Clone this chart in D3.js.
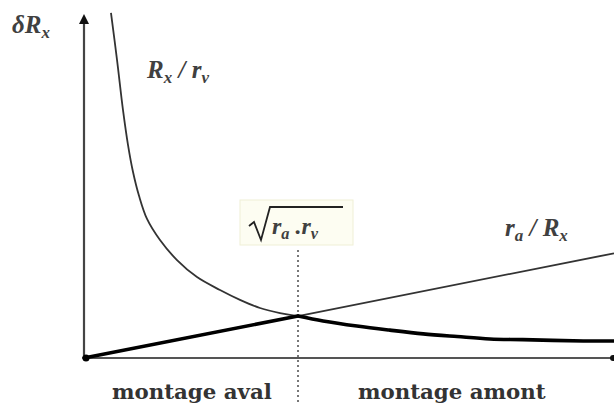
<!DOCTYPE html>
<html>
<head>
<meta charset="utf-8">
<script src="https://cdn.jsdelivr.net/npm/d3@7/dist/d3.min.js"></script>
<style>
  html, body { margin: 0; padding: 0; background: #fff; }
  svg { display: block; }
</style>
</head>
<body>
<svg id="chart" width="614" height="403"></svg>
<script>
// Error contributions versus the measured resistance Rx (arbitrary units)
const curveX = [0.509, 0.623, 0.736, 0.830, 0.925, 1.038, 1.189, 1.434, 1.755, 2.132, 2.566, 2.943, 3.321, 3.698, 4.038,
                4.51, 5.15, 5.77, 6.40, 7.04, 7.66, 8.28, 9.42, 10];
const curveY = [10.15, 8.77, 7.29, 6.27, 5.47, 4.77, 4.09, 3.47, 2.88, 2.38, 2.00, 1.71, 1.47, 1.32, 1.235,
                1.09, 0.94, 0.82, 0.71, 0.63, 0.56, 0.54, 0.50, 0.50];
const lineX = [0, 4.038, 10];
const lineY = [0, 1.235, 3.08];
const crossX = 4.038; // optimum: sqrt(ra.rv)
const regionLabels = ["montage aval", "montage amont"];

const svg = d3.select("#chart");
const x = d3.scaleLinear().domain([0, 10]).range([84, 614]);
const y = d3.scaleLinear().domain([0, 10]).range([358, 18]);

const hyper = curveX.map((v, i) => [v, curveY[i]]);
const lin = lineX.map((v, i) => [v, lineY[i]]);

const smooth = d3.line().x(d => x(d[0])).y(d => y(d[1])).curve(d3.curveCatmullRom.alpha(0.5));
const straight = d3.line().x(d => x(d[0])).y(d => y(d[1]));

// axes
svg.append("line").attr("x1", x(0)).attr("x2", x(0)).attr("y1", y(0)).attr("y2", 22)
  .attr("stroke", "#444").attr("stroke-width", 2.2);
svg.append("path").attr("d", `M${x(0)},14 L${x(0) - 5},24 L${x(0) + 5},24 Z`).attr("fill", "#111");
svg.append("line").attr("x1", x(0)).attr("x2", 614).attr("y1", y(0)).attr("y2", y(0))
  .attr("stroke", "#555").attr("stroke-width", 2);
svg.append("circle").attr("cx", 613).attr("cy", y(0)).attr("r", 3).attr("fill", "#111");

// dotted marker at the optimum
svg.append("line").attr("x1", x(crossX)).attr("x2", x(crossX)).attr("y1", 250).attr("y2", 403)
  .attr("stroke", "#777").attr("stroke-width", 2).attr("stroke-dasharray", "2,3");

// thin curves
svg.append("path").attr("d", smooth(hyper)).attr("fill", "none").attr("stroke", "#333").attr("stroke-width", 1.8);
svg.append("path").attr("d", straight(lin)).attr("fill", "none").attr("stroke", "#333").attr("stroke-width", 1.8);

// minimum of the two contributions (bold): rising line, then the falling curve
const rising = lin.filter(d => d[0] <= crossX);
const falling = hyper.filter(d => d[0] >= crossX);
const bold = svg.append("g").attr("fill", "none").attr("stroke", "#000")
  .attr("stroke-width", 3.6).attr("stroke-linejoin", "round").attr("stroke-linecap", "round");
bold.append("path").attr("d", straight(rising));
bold.append("path").attr("d", smooth(falling));
svg.append("circle").attr("cx", x(0) + 2).attr("cy", y(0)).attr("r", 3.5).attr("fill", "#000");

// math labels
const mathFont = "'Liberation Serif', 'Times New Roman', serif";
function mathLabel(px, py, parts, size) {
  const t = svg.append("text").attr("x", px).attr("y", py)
    .attr("font-family", mathFont).attr("font-size", size).attr("font-style", "italic")
    .attr("font-weight", "bold").attr("fill", "#404040");
  parts.forEach(p => {
    const s = t.append("tspan").text(p.t);
    if (p.sub) s.attr("font-size", size * 0.68).attr("dy", size * 0.2);
    if (p.up) s.attr("dy", -size * 0.2);
  });
  return t;
}
mathLabel(12, 33, [{t: "δR"}, {t: "x", sub: true}], 25);
mathLabel(147, 78, [{t: "R"}, {t: "x", sub: true}, {t: " / r", up: true}, {t: "v", sub: true}], 25);
mathLabel(505, 236, [{t: "r"}, {t: "a", sub: true}, {t: " / R", up: true}, {t: "x", sub: true}], 25);

// sqrt(ra.rv) box
svg.append("rect").attr("x", 240).attr("y", 200).attr("width", 113).attr("height", 45)
  .attr("fill", "#fdfdf2").attr("stroke", "#efefd6").attr("stroke-width", 1);
svg.append("path").attr("d", "M249,226 L254,222 L261,240 L270,207 L343,207")
  .attr("fill", "none").attr("stroke", "#222").attr("stroke-width", 1.8);
mathLabel(272, 234, [{t: "r"}, {t: "a", sub: true}, {t: " .r", up: true}, {t: "v", sub: true}], 24);

// region labels
const regionX = [112, 358];
regionLabels.forEach((lab, i) => {
  svg.append("text").attr("x", regionX[i]).attr("y", 399)
    .attr("font-family", "'DejaVu Serif', serif").attr("font-weight", "bold")
    .attr("font-size", 21.3).attr("fill", "#333").text(lab);
});
</script>
</body>
</html>
